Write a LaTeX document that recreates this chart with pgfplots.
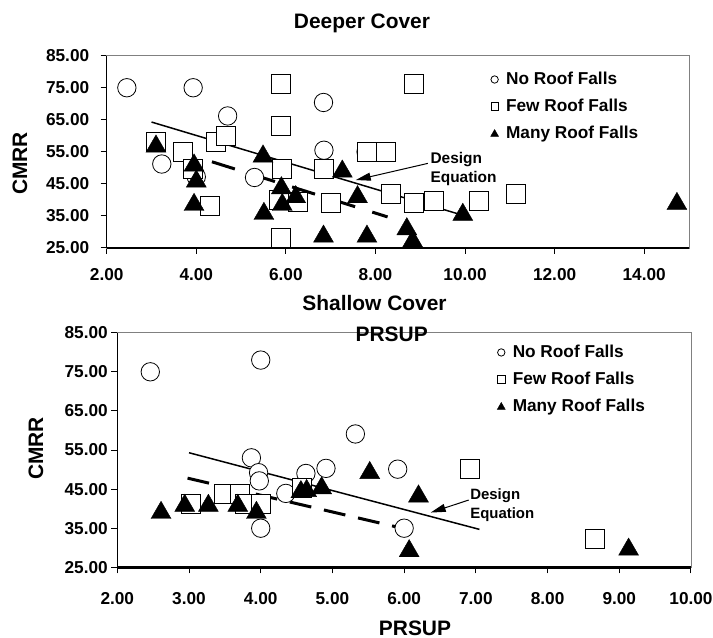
\documentclass[border=0pt]{standalone}
\usepackage{fontspec}
\setmainfont{Liberation Sans}
\usepackage{pgfplots}
\pgfplotsset{compat=1.18}
\usetikzlibrary{arrows.meta}

% shared look of both panels
\pgfplotsset{
  cmrrpanel/.style={
    scale only axis,
    clip=false,
    axis line style={draw=gray, line width=0.8bp},
    tick align=outside, tick pos=left,
    major tick length=6bp,
    tick style={black, line width=1bp},
    ymin=25, ymax=85, ytick={25,35,45,55,65,75,85},
    /pgf/number format/.cd, fixed, fixed zerofill, precision=2, assume math mode=true,
    /pgfplots/.cd,
    tick label style={font=\bfseries\fontsize{17.3}{18}\selectfont},
    legend style={draw=none, fill=none, anchor=north west, inner sep=0pt,
      font=\bfseries\fontsize{17.3}{18}\selectfont, row sep=8.8bp,
      /tikz/every odd column/.append style={column sep=5.5bp}},
    legend cell align=left,
  },
  nofalls/.style={only marks, mark=*, mark size=9.2bp,
    mark options={draw=black, fill=white, line width=0.8bp},
    legend image post style={mark size=3.7bp}},
  fewfalls/.style={only marks, mark=square*, mark size=9.5bp,
    mark options={draw=black, fill=white, line width=0.8bp},
    legend image post style={mark size=3.7bp}},
  manyfalls/.style={only marks, mark=triangle*, mark size=11.5bp,
    mark options={draw=black, fill=black, yshift=-2.9bp},
    legend image post style={mark size=4.6bp, mark options={draw=black, fill=black, yshift=-1.1bp}}},
  designline/.style={black, line width=1.5bp, no marks, forget plot},
  lowerline/.style={black, line width=3bp, no marks, forget plot},
}

\begin{document}
\begin{tikzpicture}
\path[use as bounding box] (0,0) rectangle (713bp,638bp);

% ---------------- Deeper Cover ----------------
\begin{axis}[cmrrpanel,
  at={(106.7bp,390bp)}, anchor=south west,
  width=582.3bp, height=192.3bp,
  xmin=2, xmax=15, xtick={2,4,6,8,10,12,14},
  xticklabel style={yshift=-11bp},
  yticklabel style={xshift=-8bp},
  legend style={at={(0.659,0.924)}},
]
\addplot[designline] coordinates {(3.0,64.3) (10.0,35.0)};
\addplot[lowerline, dash pattern=on 24bp off 18bp] coordinates {(4.35,51.9) (8.27,34.7)};

\addplot[nofalls] coordinates {
  (2.45,75.0) (3.93,75.0) (4.70,66.2) (3.23,51.2) (4.00,47.2)
  (5.30,47.0) (6.84,70.4) (6.85,55.5) (7.79,55.0)
};
\addplot[fewfalls] coordinates {
  (3.10,58.1) (3.70,55.0) (3.93,49.8) (4.43,58.1) (4.65,59.9)
  (4.30,38.0) (5.90,76.2) (5.90,63.1) (5.92,49.8) (5.84,39.9)
  (6.26,39.4) (5.90,28.0) (6.84,49.8) (7.81,55.0) (8.23,55.0)
  (7.00,39.1) (8.35,42.0) (8.85,39.1) (9.31,39.7) (10.32,39.7)
  (8.85,76.2) (11.14,42.0)
};
\addplot[manyfalls] coordinates {
  (3.10,57.6) (3.95,51.7) (4.00,46.7) (3.95,39.4) (5.49,54.5)
  (5.51,36.6) (5.90,44.6) (5.92,39.4) (6.22,41.8) (7.26,49.8)
  (7.60,41.8) (6.84,29.5) (7.81,29.5) (8.70,31.8) (8.83,28.0)
  (9.95,36.3) (14.73,39.7)
};
\legend{No Roof Falls, Few Roof Falls, Many Roof Falls}

\draw[black, line width=1.5bp] (rel axis cs:0,1) -- (rel axis cs:0,0);
\draw[black, line width=2.4bp] (rel axis cs:0,0) -- (rel axis cs:1,0);

\draw[black, line width=1bp, -{Triangle[length=15bp, width=8bp]}]
  (axis cs:9.17,51.4) -- (axis cs:7.56,46.2);
\node[anchor=base west, inner sep=0pt, font=\bfseries\fontsize{15.5}{18}\selectfont]
  at (axis cs:9.225,51.4) {Design};
\node[anchor=base west, inner sep=0pt, font=\bfseries\fontsize{15.5}{18}\selectfont]
  at (axis cs:9.225,45.3) {Equation};
\end{axis}

% ---------------- PRSUP (shallow cover) ----------------
\begin{axis}[cmrrpanel,
  at={(117.3bp,70.7bp)}, anchor=south west,
  width=573.7bp, height=234.6bp,
  xmin=2, xmax=10, xtick={2,3,4,5,6,7,8,9,10},
  xticklabel style={yshift=-16bp},
  legend style={at={(0.662,0.955)}},
]
\addplot[designline] coordinates {(3.0,54.3) (7.05,34.7)};
\addplot[lowerline, dash pattern=on 22bp off 13bp] coordinates {(2.98,47.8) (5.90,35.3)};

\addplot[nofalls] coordinates {
  (2.46,75.0) (4.00,78.0) (3.87,53.0) (3.97,49.2) (3.98,47.1)
  (4.00,35.0) (4.35,43.9) (4.63,49.0) (4.91,50.3) (5.32,59.1)
  (5.91,50.1) (6.00,35.0)
};
\addplot[fewfalls] coordinates {
  (3.03,41.2) (3.49,43.9) (3.71,43.9) (3.78,41.2) (4.00,41.2)
  (4.57,45.2) (6.91,50.1) (8.66,32.2)
};
\addplot[manyfalls] coordinates {
  (2.61,39.7) (2.94,41.5) (3.27,41.5) (3.68,41.5) (3.94,39.7)
  (4.56,45.0) (4.64,45.3) (4.85,46.0) (5.52,49.9) (6.20,43.9)
  (6.07,29.9) (9.13,30.3)
};
\legend{No Roof Falls, Few Roof Falls, Many Roof Falls}

\draw[black, line width=1.5bp] (rel axis cs:0,1) -- (rel axis cs:0,0);
\draw[black, line width=2.4bp] (rel axis cs:0,0) -- (rel axis cs:1,0);

\draw[black, line width=1bp, -{Triangle[length=15bp, width=8bp]}]
  (axis cs:6.90,42.2) -- (axis cs:6.37,39.0);
\node[anchor=base west, inner sep=0pt, font=\bfseries\fontsize{15}{18}\selectfont]
  at (axis cs:6.92,42.4) {Design};
\node[anchor=base west, inner sep=0pt, font=\bfseries\fontsize{15}{18}\selectfont]
  at (axis cs:6.92,37.5) {Equation};
\end{axis}

% titles and axis labels
\begin{scope}[every node/.style={font=\bfseries\fontsize{21}{24}\selectfont, inner sep=0pt}]
\node[anchor=base] at (362bp,609.7bp) {Deeper Cover};
\node[anchor=base] at (374.5bp,327bp) {Shallow Cover};
\node[anchor=base] at (391.7bp,296.3bp) {PRSUP};
\node[anchor=base] at (415bp,3bp) {PRSUP};
\node[rotate=90] at (20bp,474.7bp) {CMRR};
\node[rotate=90] at (36bp,189.7bp) {CMRR};
\end{scope}
\end{tikzpicture}
\end{document}
